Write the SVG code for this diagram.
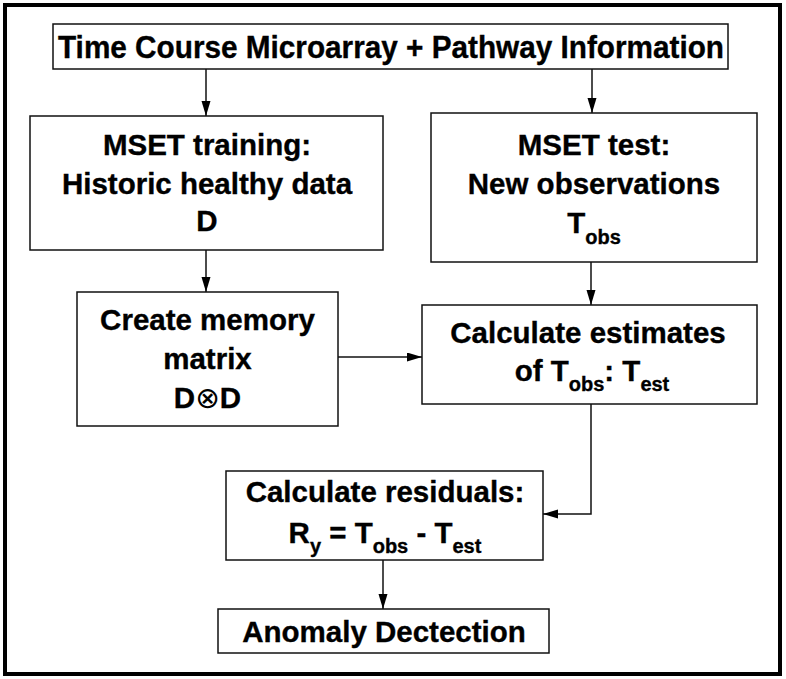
<svg xmlns="http://www.w3.org/2000/svg" width="786" height="679" viewBox="0 0 786 679">
<style>
.box{fill:#fff;stroke:#111;stroke-width:1.5}
.t{font-family:"Liberation Sans",Arial,sans-serif;font-weight:bold;font-size:29.5px;fill:#000;stroke:#000;stroke-width:0.35;text-anchor:middle}
.sub{font-size:20px}
.conn{fill:none;stroke:#111;stroke-width:1.5}
</style>
<defs>
<marker id="ah" markerUnits="userSpaceOnUse" markerWidth="16" markerHeight="10" refX="15" refY="4.5" orient="auto">
<path d="M0,0 L15,4.5 L0,9 z" fill="#000"/>
</marker>
</defs>
<rect x="5" y="5" width="775" height="669" fill="#fff" stroke="#000" stroke-width="4"/>
<g id="connectors">
<line class="conn" x1="206" y1="69" x2="206" y2="116" marker-end="url(#ah)"/>
<line class="conn" x1="592" y1="69" x2="592" y2="113" marker-end="url(#ah)"/>
<line class="conn" x1="206" y1="250" x2="206" y2="292" marker-end="url(#ah)"/>
<line class="conn" x1="591" y1="262" x2="591" y2="305" marker-end="url(#ah)"/>
<line class="conn" x1="338" y1="357" x2="422" y2="357" marker-end="url(#ah)"/>
<polyline class="conn" points="591,404 591,514 543,514" marker-end="url(#ah)"/>
<line class="conn" x1="383" y1="560" x2="383" y2="609" marker-end="url(#ah)"/>
</g>
<g id="n-title">
<rect class="box" x="53" y="24" width="675" height="45"/>
<text class="t" x="391" y="58" textLength="666" lengthAdjust="spacingAndGlyphs" style="font-size:31px">Time Course Microarray + Pathway Information</text>
</g>
<g id="n-train">
<rect class="box" x="30" y="116" width="353" height="134"/>
<text class="t" x="207" y="155">MSET training:</text>
<text class="t" x="207" y="194">Historic healthy data</text>
<text class="t" x="207" y="231">D</text>
</g>
<g id="n-test">
<rect class="box" x="431" y="113" width="326" height="149"/>
<text class="t" x="594" y="155">MSET test:</text>
<text class="t" x="594" y="194">New observations</text>
<text class="t" x="594" y="233">T<tspan class="sub" dy="11">obs</tspan></text>
</g>
<g id="n-memory">
<rect class="box" x="77" y="292" width="261" height="134"/>
<text class="t" x="207.5" y="330">Create memory</text>
<text class="t" x="207.5" y="369">matrix</text>
<text class="t" x="207.5" y="408">D<tspan style="font-family:'DejaVu Sans',sans-serif;font-weight:normal;stroke-width:0">⊗</tspan>D</text>
</g>
<g id="n-estimates">
<rect class="box" x="422" y="305" width="335" height="99"/>
<text class="t" x="588" y="343">Calculate estimates</text>
<text class="t" x="592" y="381">of T<tspan class="sub" dy="10">obs</tspan><tspan dy="-10">: T</tspan><tspan class="sub" dy="10">est</tspan></text>
</g>
<g id="n-residuals">
<rect class="box" x="226" y="471" width="317" height="89"/>
<text class="t" x="385" y="502">Calculate residuals:</text>
<text class="t" x="385" y="543">R<tspan class="sub" dy="10">y</tspan><tspan dy="-10"> = T</tspan><tspan class="sub" dy="10">obs</tspan><tspan dy="-10"> - T</tspan><tspan class="sub" dy="10">est</tspan></text>
</g>
<g id="n-anomaly">
<rect class="box" x="218" y="609" width="331" height="44"/>
<text class="t" x="384" y="642">Anomaly Dectection</text>
</g>
</svg>
